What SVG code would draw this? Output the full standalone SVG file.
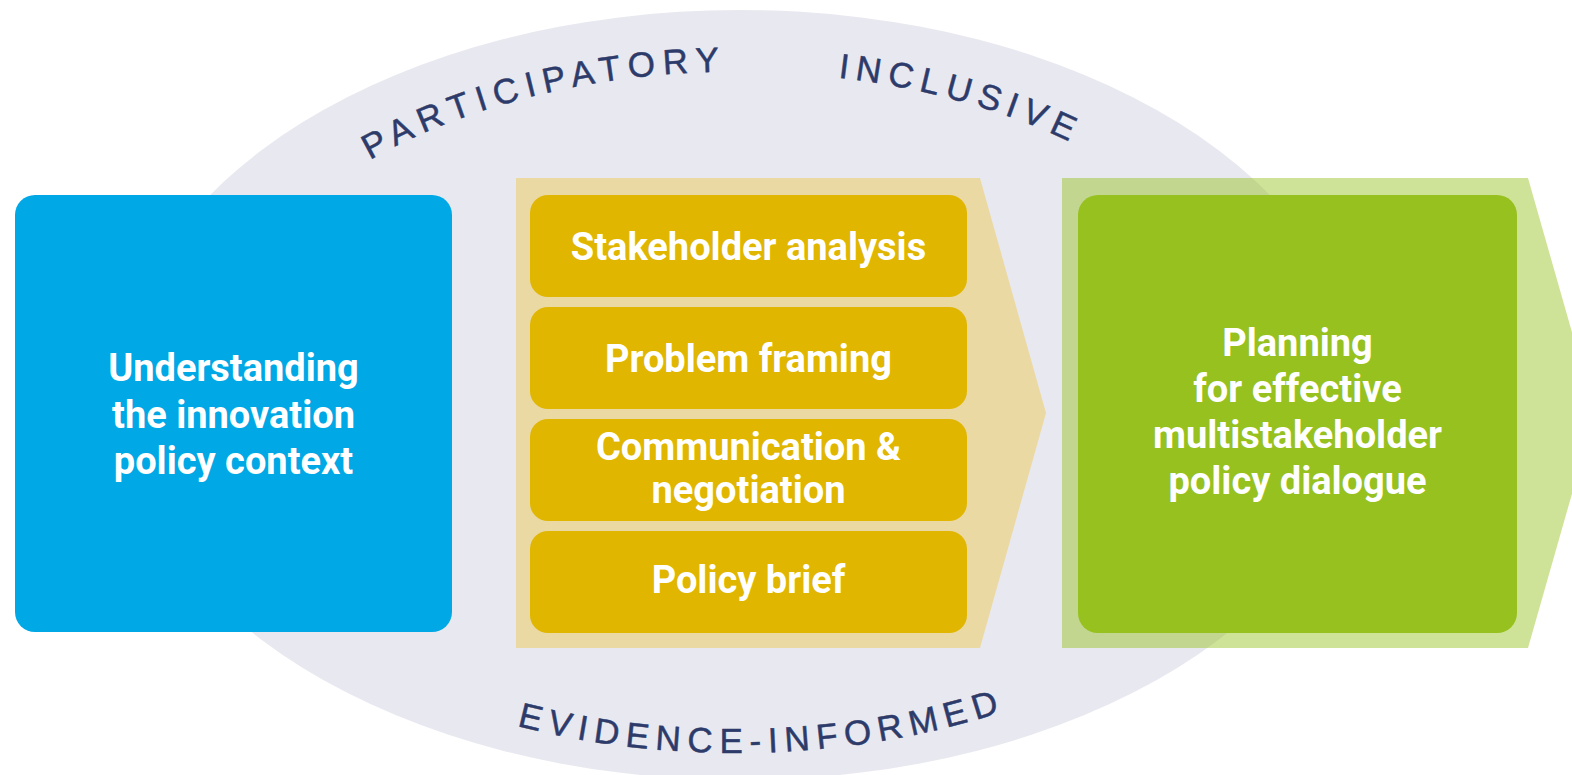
<svg xmlns="http://www.w3.org/2000/svg" width="1572" height="775" viewBox="0 0 1572 775">
  <style>
    .box-text { font-family: Roboto, "Liberation Sans", sans-serif; font-weight: 700; font-size: 38px; fill: #ffffff; text-anchor: middle; }
    .arc-text { font-family: "Liberation Sans", Arial, sans-serif; font-size: 35px; fill: #2d3b6a; stroke: #2d3b6a; stroke-width: 0.5px; letter-spacing: 7px; }
    .step { fill: #e0b600; }
  </style>
  <defs>
    <path id="arcParticipatory" d="M 370,160 A 540 330 0 0 1 1278,402"/>
    <path id="arcInclusive" d="M 838,77.7 A 540 330 0 0 1 1278,402"/>
    <path id="arcEvidence" d="M 517,726 A 574 360 0 0 0 1174.7,624.4"/>
  </defs>
  <rect x="0" y="0" width="1572" height="775" fill="#ffffff"/>
  <g id="background">
    <ellipse cx="740" cy="395" rx="620" ry="385" fill="#e8e8f0"/>
  </g>
  <g id="arc-labels">
    <text class="arc-text" style="letter-spacing:7.6px"><textPath href="#arcParticipatory">PARTICIPATORY</textPath></text>
    <text class="arc-text"><textPath href="#arcInclusive">INCLUSIVE</textPath></text>
    <text class="arc-text"><textPath href="#arcEvidence">EVIDENCE-INFORMED</textPath></text>
  </g>
  <g id="node-context">
    <rect x="15" y="195" width="437" height="437" rx="20" fill="#00a8e5"/>
    <text class="box-text" x="233.5" y="381">Understanding</text>
    <text class="box-text" x="233.5" y="428">the innovation</text>
    <text class="box-text" x="233.5" y="474">policy context</text>
  </g>
  <g id="node-tools">
    <polygon points="516,178 980,178 1046,413 980,648 516,648" fill="#ebd9a3"/>
    <g id="step-stakeholder">
      <rect class="step" x="530" y="195" width="437" height="102" rx="18"/>
      <text class="box-text" x="748.5" y="260">Stakeholder analysis</text>
    </g>
    <g id="step-problem">
      <rect class="step" x="530" y="307" width="437" height="102" rx="18"/>
      <text class="box-text" x="748.5" y="372">Problem framing</text>
    </g>
    <g id="step-communication">
      <rect class="step" x="530" y="419" width="437" height="102" rx="18"/>
      <text class="box-text" x="748.5" y="460">Communication &amp;</text>
      <text class="box-text" x="748.5" y="503">negotiation</text>
    </g>
    <g id="step-brief">
      <rect class="step" x="530" y="531" width="437" height="102" rx="18"/>
      <text class="box-text" x="748.5" y="593">Policy brief</text>
    </g>
  </g>
  <g id="node-planning">
    <polygon points="1062,178 1528,178 1595,413 1528,648 1062,648" fill="#97c11f" fill-opacity="0.46"/>
    <rect x="1078" y="195" width="439" height="438" rx="20" fill="#96c11f"/>
    <text class="box-text" x="1297.5" y="356">Planning</text>
    <text class="box-text" x="1297.5" y="402">for effective</text>
    <text class="box-text" x="1297.5" y="448">multistakeholder</text>
    <text class="box-text" x="1297.5" y="494">policy dialogue</text>
  </g>
  <g id="connectors"></g>
</svg>
